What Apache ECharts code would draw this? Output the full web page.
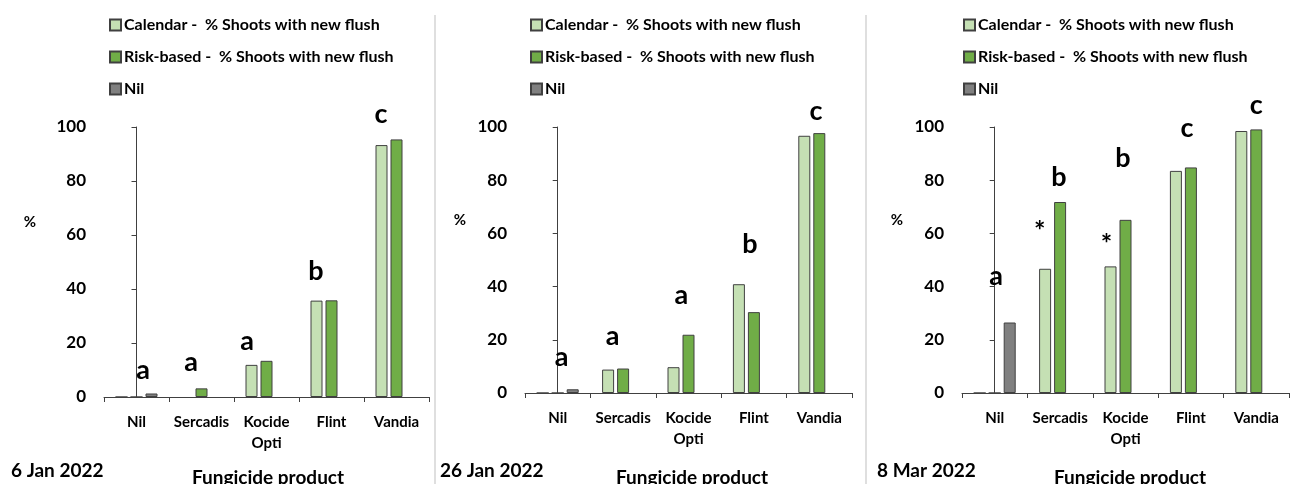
<!DOCTYPE html>
<html>
<head>
<meta charset="utf-8">
<script src="https://cdn.jsdelivr.net/npm/echarts@6/dist/echarts.min.js"></script>
<style>
  html, body { margin: 0; padding: 0; background: #ffffff; }
  #chart { width: 1300px; height: 484px; }
</style>
</head>
<body>
<div id="chart"></div>
<script>
// Fungicide products on the category axis
const categories = ['Nil', 'Sercadis', 'Kocide\nOpti', 'Flint', 'Vandia'];
const yMin = 0, yMax = 100, yStep = 20;

const seriesNames = [
  'Calendar -  % Shoots with new flush',
  'Risk-based -  % Shoots with new flush',
  'Nil'
];

// 6 Jan 2022
const jan6Calendar = [0, null, 11.9, 35.7, 93.3];
const jan6Risk     = [0, 3.2, 13.4, 35.8, 95.4];
const jan6Nil      = [1.3, null, null, null, null];
// 26 Jan 2022
const jan26Calendar = [0, 8.8, 9.7, 40.9, 96.7];
const jan26Risk     = [0, 9.2, 21.9, 30.4, 97.7];
const jan26Nil      = [1.4, null, null, null, null];
// 8 Mar 2022
const mar8Calendar = [0, 46.7, 47.6, 83.5, 98.5];
const mar8Risk     = [0, 71.8, 65.1, 84.8, 99.1];
const mar8Nil      = [26.5, null, null, null, null];

// Significance letters: text, x (category index), y (%)
const jan6Letters   = ['a', 'a', 'a', 'b', 'c'];
const jan6LetterX   = [0.10, 0.84, 1.70, 2.76, 3.76];
const jan6LetterY   = [10.0, 13.0, 20.7, 46.7, 104.8];
const jan26Letters  = ['a', 'a', 'a', 'b', 'c'];
const jan26LetterX  = [0.06, 0.84, 1.89, 2.94, 3.95];
const jan26LetterY  = [13.6, 21.2, 36.9, 56.0, 106.0];
const mar8Letters   = ['a', '*', 'b', '*', 'b', 'c', 'c'];
const mar8LetterX   = [0.02, 0.69, 0.98, 1.71, 1.96, 2.94, 4.00];
const mar8LetterY   = [43.7, 63.7, 81.2, 59.0, 88.1, 99.5, 108.0];

const dateLabels = ['6 Jan 2022', '26 Jan 2022', '8 Mar 2022'];

const panels = [
  { cal: jan6Calendar, risk: jan6Risk, nil: jan6Nil, lt: jan6Letters, lx: jan6LetterX, ly: jan6LetterY },
  { cal: jan26Calendar, risk: jan26Risk, nil: jan26Nil, lt: jan26Letters, lx: jan26LetterX, ly: jan26LetterY },
  { cal: mar8Calendar, risk: mar8Risk, nil: mar8Nil, lt: mar8Letters, lx: mar8LetterX, ly: mar8LetterY }
];

const FONT = 'Lato, "Open Sans", sans-serif';
const AXIS = '#404040';
const fills = ['#C5E0B4', '#70AD47', '#808080'];

// layout of the three plot areas
const grids = [
  { left: 104, top: 127, width: 325, height: 270 },
  { left: 525, top: 127, width: 327, height: 266 },
  { left: 962, top: 127, width: 327, height: 266 }
];
const legendLeft = [109, 530, 963];
const pctPos = [[30, 222], [460, 220], [897, 220]];
const datePos = [[11, 471], [440, 471], [877, 471]];
const axisTitleX = [268, 692, 1130];
const dividers = [435, 866];

const xAxes = [], yAxes = [], series = [], legends = [], graphics = [];

grids.forEach((g, i) => {
  xAxes.push({
    type: 'category', gridIndex: i, data: categories,
    axisLine: { show: true, lineStyle: { color: AXIS, width: 1 } },
    axisTick: { show: true, length: 5, lineStyle: { color: AXIS } },
    axisLabel: { interval: 0, margin: 15, color: '#000', fontFamily: FONT, fontWeight: 'bold', fontSize: 15, lineHeight: 21 }
  });
  yAxes.push({
    type: 'value', gridIndex: i, min: yMin, max: yMax, interval: yStep,
    axisLine: { show: true, lineStyle: { color: AXIS, width: 1 } },
    axisTick: { show: true, length: 5, lineStyle: { color: AXIS } },
    splitLine: { show: false },
    axisLabel: { margin: 18, color: '#000', fontFamily: FONT, fontWeight: 'bold', fontSize: 17 }
  });
});
// hidden value axes used to place the significance letters
grids.forEach((g, i) => {
  xAxes.push({ type: 'value', gridIndex: i, min: -0.5, max: 4.5, show: false });
});

panels.forEach((p, i) => {
  [p.cal, p.risk, p.nil].forEach((vals, k) => {
    series.push({
      type: 'bar', name: seriesNames[k], xAxisIndex: i, yAxisIndex: i,
      data: vals, barWidth: 12, barGap: '25%',
      itemStyle: { color: fills[k], borderColor: AXIS, borderWidth: 1 },
      emphasis: { disabled: true }
    });
  });
  series.push({
    type: 'scatter', xAxisIndex: 3 + i, yAxisIndex: i, symbolSize: 1,
    clip: false, silent: true,
    itemStyle: { color: 'rgba(255,255,255,0)', opacity: 1 },
    data: p.lt.map((t, j) => ({
      value: [p.lx[j], p.ly[j]], name: t,
      label: t === '*' ? { offset: [0, 8] } : {}
    })),
    label: {
      show: true, position: 'inside', formatter: d => d.name,
      color: '#000', opacity: 1, fontFamily: FONT, fontWeight: 'bold', fontSize: 27
    }
  });
  legends.push({
    orient: 'vertical', left: legendLeft[i], top: 15, padding: 0,
    data: seriesNames, icon: 'rect', itemWidth: 11, itemHeight: 11, itemGap: 12,
    selectedMode: false,
    textStyle: { color: '#000', fontFamily: FONT, fontWeight: 'bold', fontSize: 16, lineHeight: 20, padding: [0, 0, 0, -2] }
  });
  graphics.push({ type: 'text', x: pctPos[i][0], y: pctPos[i][1],
    style: { text: '%', fill: '#000', font: 'bold 15px ' + FONT, textAlign: 'center', textVerticalAlign: 'middle' } });
  graphics.push({ type: 'text', x: datePos[i][0], y: datePos[i][1],
    style: { text: dateLabels[i], fill: '#000', font: 'bold 19px ' + FONT, textAlign: 'left', textVerticalAlign: 'middle' } });
  graphics.push({ type: 'text', x: axisTitleX[i], y: 478,
    style: { text: 'Fungicide product', fill: '#000', font: 'bold 19px ' + FONT, textAlign: 'center', textVerticalAlign: 'middle' } });
});

dividers.forEach(x => {
  graphics.push({ type: 'line', shape: { x1: x, y1: 15, x2: x, y2: 484 },
    style: { stroke: '#BFBFBF', lineWidth: 1 } });
});

const chart = echarts.init(document.getElementById('chart'), null, { renderer: 'canvas' });
chart.setOption({
  backgroundColor: '#ffffff',
  animation: false,
  grid: grids,
  xAxis: xAxes,
  yAxis: yAxes,
  legend: legends,
  series: series,
  graphic: graphics
});
</script>
</body>
</html>
